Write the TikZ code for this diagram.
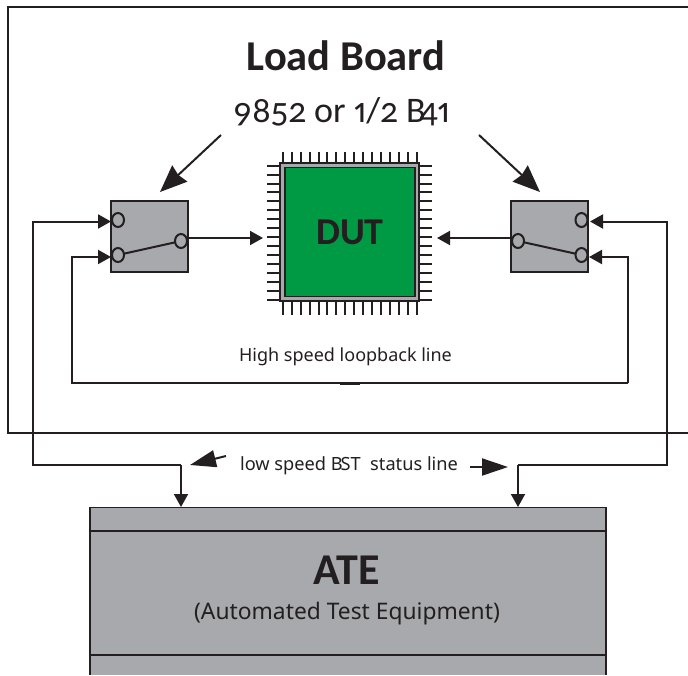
\documentclass[tikz,border=0pt]{standalone}
\usepackage{fontspec}
\setmainfont{Noto Sans}
\newfontfamily\headfont[Numbers={OldStyle,Proportional}]{Carlito}
\usetikzlibrary{arrows.meta,shapes.geometric}
\definecolor{inkc}{HTML}{231F20}
\definecolor{greyc}{HTML}{A7A9AC}
\definecolor{greenc}{HTML}{009A44}
\tikzset{
 wire/.style={draw=inkc,line width=2pt,line join=miter},
 wirearrow/.style={wire,-{Triangle[length=13pt,width=14pt]}},
 bigarrow/.style={draw=inkc,line width=2pt,-{Stealth[length=27pt,width=22pt,inset=2pt]}},
 smallarrow/.style={draw=inkc,line width=2pt,-{Triangle[length=26pt,width=17pt]}},
 switchbox/.style={draw=inkc,fill=greyc,line width=1.5pt,minimum width=77pt,minimum height=71pt,inner sep=0pt,outer sep=0pt},
 contact/.style={ellipse,draw=inkc,fill=greyc,line width=2pt,minimum width=12pt,minimum height=14pt,inner sep=0pt,outer sep=0pt},
 pin/.style={draw=inkc,line width=2pt},
 label/.style={inner sep=0pt,text=inkc},
}
\begin{document}
\begin{tikzpicture}[x=1pt,y=-1pt]
\useasboundingbox (0,0) rectangle (688,675);
% load board outline
\coordinate (lbTR) at (688,7);
\coordinate (lbTL) at (8,7);
\coordinate (lbBL) at (8,433);
\coordinate (lbBR) at (688,433);
\draw[draw=inkc,line width=1.1pt] (lbTR) -- (lbTL) -- (lbBL) -- (lbBR);
% texts
\node[label,font=\headfont\bfseries\fontsize{42.5}{42}\selectfont] (title) at (346,56) {Load Board};
\node[label,font=\headfont\fontsize{36}{36}\selectfont] (sub) at (341.5,112) {9852 or 1/2 B\kern-7pt 41};
% DUT pins
\foreach \i in {0,...,15}{
  \pgfmathsetmacro{\p}{282.7+8.95*\i}
  \draw[pin] (\p,152) -- (\p,164);
  \draw[pin] (\p,300) -- (\p,315);
  \pgfmathsetmacro{\q}{165.7+8.93*\i}
  \draw[pin] (267,\q) -- (281,\q);
  \draw[pin] (418,\q) -- (432,\q);
}
\node[draw=inkc,fill=greyc,line width=1.5pt,minimum width=139pt,minimum height=138pt,inner sep=0pt] (dutouter) at (349.5,232) {};
\node[draw=inkc,fill=greenc,line width=1.8pt,minimum width=130pt,minimum height=129pt,inner sep=0pt,font=\headfont\bfseries\fontsize{38}{38}\selectfont,text=inkc] (dut) at (350,232) {DUT};
% switches
\node[switchbox] (swL) at (149.5,236.5) {};
\node[switchbox] (swR) at (549.5,236.5) {};
\node[contact] (lt) at (118,220) {};
\node[contact] (lb) at (118,255) {};
\node[contact] (lr) at (181,241) {};
\node[contact] (rt) at (581.5,220) {};
\node[contact] (rb) at (581.5,255) {};
\node[contact] (rl) at (518,241) {};
\draw[wire] (lb) -- (lr);
\draw[wire] (rb) -- (rl);
% pointer arrows
\coordinate (pLs) at (221,135);
\coordinate (pLe) at (160,192);
\coordinate (pRs) at (479,135);
\coordinate (pRe) at (540,192);
\draw[bigarrow] (pLs) -- (pLe);
\draw[bigarrow] (pRs) -- (pRe);
% signals to DUT
\coordinate (tipL) at (263,238);
\coordinate (tipR) at (437,238);
\draw[wirearrow] (lr.east |- tipL) -- (tipL);
\draw[wirearrow] (rl.west |- tipR) -- (tipR);
% ATE
\coordinate (ateBL) at (90,675);
\coordinate (ateBR) at (606,675);
\coordinate (ateTL) at (90,507.5);
\coordinate (ateTR) at (606,507.5);
\fill[greyc] (ateBL) -- (ateTL) -- (ateTR) -- (ateBR) -- cycle;
\draw[draw=inkc,line width=1.8pt] (ateBL) -- (ateTL) -- (ateTR) -- (ateBR);
\coordinate (ateL1) at (90,531);
\coordinate (ateR1) at (606,531);
\coordinate (ateL2) at (90,655);
\coordinate (ateR2) at (606,655);
\draw[draw=inkc,line width=1.8pt] (ateL1) -- (ateR1);
\draw[draw=inkc,line width=1.8pt] (ateL2) -- (ateR2);
\node[label,font=\headfont\bfseries\fontsize{44}{44}\selectfont] (ate) at (347,570) {ATE};
\node[label,font=\fontsize{22.8}{24}\selectfont] (atesub) at (347,614) {(Automated Test Equipment)};
% loopback
\coordinate (lt1) at (72,257);
\coordinate (lt2) at (72,383);
\coordinate (rt1) at (628,383);
\coordinate (rt2) at (628,257);
\coordinate (tipLb) at (111,257);
\coordinate (tipRb) at (589,257);
\draw[wirearrow] (rt1) -- (rt2) -- (tipRb);
\draw[wirearrow] (rt1) -- (lt2) -- (lt1) -- (tipLb);
\coordinate (mk1) at (340,384);
\coordinate (mk2) at (360,384);
\draw[draw=inkc,line width=2pt] (mk1) -- (mk2);
\node[label,font=\fontsize{18}{20}\selectfont] (hs) at (345.5,357) {High speed loopback line};
% status lines
\coordinate (tipLt) at (111,221.5);
\coordinate (tipRt) at (590,221.5);
\coordinate (a1) at (33,221.5);
\coordinate (a2) at (33,465);
\coordinate (a3) at (181,465);
\coordinate (a4) at (181,507);
\coordinate (b1) at (667,221.5);
\coordinate (b2) at (667,465);
\coordinate (b3) at (518,465);
\coordinate (b4) at (518,507);
\draw[wirearrow] (a3) -- (a2) -- (a1) -- (tipLt);
\draw[wirearrow] (a3) -- (a4);
\draw[wirearrow] (b3) -- (b2) -- (b1) -- (tipRt);
\draw[wirearrow] (b3) -- (b4);
\node[label,font=\fontsize{18.2}{20}\selectfont] (ls) at (349,466) {low speed B\kern-2pt ST\ \ status line};
\coordinate (sLs) at (226,456);
\coordinate (sLe) at (190,465);
\coordinate (sRs) at (470,467);
\coordinate (sRe) at (508,467);
\draw[smallarrow] (sLs) -- (sLe);
\draw[smallarrow] (sRs) -- (sRe);
\end{tikzpicture}
\end{document}
